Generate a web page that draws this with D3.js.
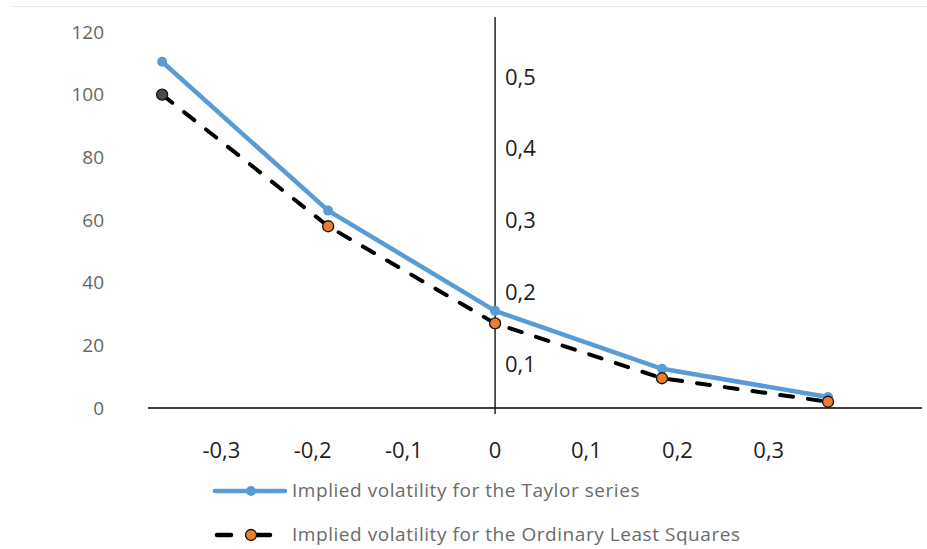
<!DOCTYPE html>
<html>
<head>
<meta charset="utf-8">
<script src="https://cdn.jsdelivr.net/npm/d3@7"></script>
<style>
	body { margin: 0; background: #fff; }
	text { font-family: "Open Sans", sans-serif; }
</style>
</head>
<body>
<div id="chart"></div>
<script>
// moneyness points (x) and the two volatility curves
var xValues = [-0.365, -0.183, 0, 0.183, 0.365]
var taylor = [110.5, 63, 31, 12.5, 3.5]
var ols = [100, 58, 27, 9.5, 2]

var leftTicks = [0, 20, 40, 60, 80, 100, 120]
var bottomTicks = [-0.3, -0.2, -0.1, 0, 0.1, 0.2, 0.3]
var rightTicks = [0.1, 0.2, 0.3, 0.4, 0.5]

var seriesNames = ["Implied volatility for the Taylor series", "Implied volatility for the Ordinary Least Squares"]

var width = 927, height = 549

var svg = d3.select("#chart")
	.append("svg")
	.attr("width", width)
	.attr("height", height)

// faint chart border on top
svg.append("line")
	.attr("x1", 10).attr("x2", width)
	.attr("y1", 6.5).attr("y2", 6.5)
	.attr("stroke", "#ececec")

var x = d3.scaleLinear()
	.domain([-0.3805, 0.468])
	.range([148, 922])

var y = d3.scaleLinear()
	.domain([0, 120])
	.range([408, 32])

// right hand labels sit on their own scale
var y2 = d3.scaleLinear()
	.domain([0.1, 0.5])
	.range([364, 77])

function comma(v) { return String(v).replace(".", ",") }

// left axis, labels only
svg.append("g")
	.selectAll("text")
	.data(leftTicks)
	.enter()
	.append("text")
	.attr("x", 104)
	.attr("y", function(d) { return y(d) })
	.attr("dy", "0.35em")
	.attr("text-anchor", "end")
	.style("font-size", "19px")
	.style("fill", "#666")
	.text(function(d) { return d })

// horizontal axis line
svg.append("line")
	.attr("x1", x.range()[0]).attr("x2", x.range()[1])
	.attr("y1", y(0)).attr("y2", y(0))
	.attr("stroke", "#000")
	.attr("stroke-width", 1.5)

// vertical axis through zero
svg.append("line")
	.attr("x1", x(0)).attr("x2", x(0))
	.attr("y1", 17).attr("y2", y(0) + 6)
	.attr("stroke", "#222")
	.attr("stroke-width", 1.5)

svg.append("g")
	.selectAll("text")
	.data(bottomTicks)
	.enter()
	.append("text")
	.attr("x", function(d) { return x(d) })
	.attr("y", 450)
	.attr("dy", "0.35em")
	.attr("text-anchor", "middle")
	.style("font-size", "22px")
	.style("fill", "#1e1e1e")
	.text(function(d) { return comma(d) })

svg.append("g")
	.selectAll("text")
	.data(rightTicks)
	.enter()
	.append("text")
	.attr("x", 505)
	.attr("y", function(d) { return y2(d) })
	.attr("dy", "0.35em")
	.style("font-size", "22px")
	.style("fill", "#1e1e1e")
	.text(function(d) { return comma(d) })

var lineGen = d3.line()
	.x(function(d) { return x(d[0]) })
	.y(function(d) { return y(d[1]) })

var taylorPts = d3.zip(xValues, taylor)
var olsPts = d3.zip(xValues, ols)

svg.append("path")
	.datum(taylorPts)
	.attr("d", lineGen)
	.attr("fill", "none")
	.attr("stroke", "#5b9bd5")
	.attr("stroke-width", 4.5)
	.attr("stroke-linejoin", "round")

svg.selectAll(".tdot")
	.data(taylorPts)
	.enter()
	.append("circle")
	.attr("cx", function(d) { return x(d[0]) })
	.attr("cy", function(d) { return y(d[1]) })
	.attr("r", 5)
	.attr("fill", "#5b9bd5")

svg.append("path")
	.datum(olsPts)
	.attr("d", lineGen)
	.attr("fill", "none")
	.attr("stroke", "#000")
	.attr("stroke-width", 4)
	.attr("stroke-linecap", "round")
	.attr("stroke-dasharray", "13,15")

svg.selectAll(".odot")
	.data(olsPts)
	.enter()
	.append("circle")
	.attr("cx", function(d) { return x(d[0]) })
	.attr("cy", function(d) { return y(d[1]) })
	.attr("r", 5.5)
	.attr("fill", function(d, i) { return i == 0 ? "#4a4a4a" : "#ed7d31" })
	.attr("stroke", "#111")
	.attr("stroke-width", 1.3)

// legend
var legendY = [491, 535]
var lg = svg.append("g")

lg.append("line")
	.attr("x1", 215).attr("x2", 285)
	.attr("y1", legendY[0]).attr("y2", legendY[0])
	.attr("stroke", "#5b9bd5")
	.attr("stroke-width", 4.5)
	.attr("stroke-linecap", "round")
lg.append("circle")
	.attr("cx", 251).attr("cy", legendY[0])
	.attr("r", 5)
	.attr("fill", "#5b9bd5")

lg.append("line")
	.attr("x1", 217).attr("x2", 280)
	.attr("y1", legendY[1]).attr("y2", legendY[1])
	.attr("stroke", "#000")
	.attr("stroke-width", 4.5)
	.attr("stroke-linecap", "round")
	.attr("stroke-dasharray", "14,25")
lg.append("circle")
	.attr("cx", 251).attr("cy", legendY[1])
	.attr("r", 5.5)
	.attr("fill", "#ed7d31")
	.attr("stroke", "#111")
	.attr("stroke-width", 1.3)

lg.selectAll("text")
	.data(seriesNames)
	.enter()
	.append("text")
	.attr("x", 292)
	.attr("y", function(d, i) { return legendY[i] })
	.attr("dy", "0.32em")
	.style("font-size", "19px")
	.style("letter-spacing", "0.55px")
	.style("fill", "#6a6a6a")
	.text(function(d) { return d })
</script>
</body>
</html>
